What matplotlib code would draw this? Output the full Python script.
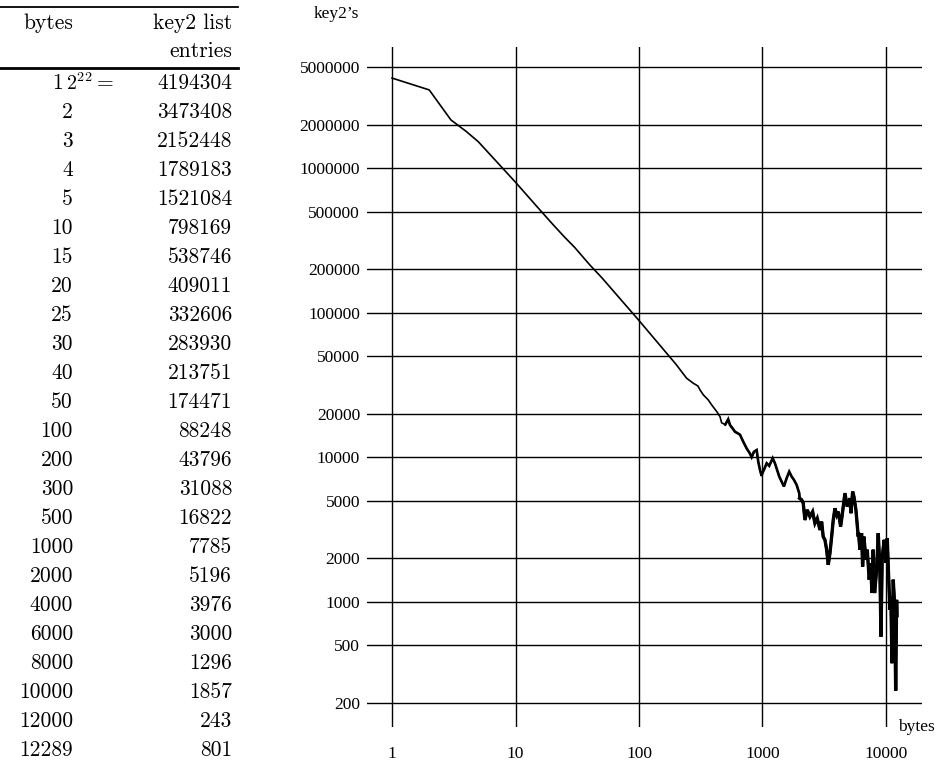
import matplotlib
matplotlib.use("Agg")
import matplotlib.pyplot as plt
from matplotlib.lines import Line2D
import numpy as np

plt.rcParams["mathtext.fontset"] = "cm"

# Table: block size in bytes and number of key2 list entries
table_bytes = [1, 2, 3, 4, 5, 10, 15, 20, 25, 30, 40, 50, 100, 200, 300, 500,
               1000, 2000, 4000, 6000, 8000, 10000, 12000, 12289]
table_entries = [4194304, 3473408, 2152448, 1789183, 1521084, 798169, 538746,
                 409011, 332606, 283930, 213751, 174471, 88248, 43796, 31088,
                 16822, 7785, 5196, 3976, 3000, 1296, 1857, 243, 801]

# Additional samples of the measured curve between the tabulated sizes
extra_bytes = [243, 275, 312, 332, 364, 388, 426, 453, 467, 528, 546, 574, 599,
               625, 658, 699, 745, 792, 818, 853, 898, 925, 955, 985, 1028,
               1082, 1135, 1210, 1262, 1368, 1430, 1493, 1570, 1648, 1723,
               1799, 1892, 1986, 2076, 2140, 2208, 2306, 2425, 2549, 2661,
               2779, 2922, 3016, 3105, 3207, 3311, 3412, 3522, 3635, 3745,
               3866, 4111, 4298, 4460, 4656, 4861, 5114, 5210, 5375, 5508,
               5715, 5970, 6155, 6355, 6475, 6635, 6888, 7059, 7326, 7516,
               7705, 7890, 8105, 8410, 8667, 8938, 9120, 9333, 9686, 10250,
               10520, 10770, 10970, 11190, 11460, 11750, 12210]
extra_entries = [35200, 32500, 29200, 27000, 24900, 23000, 20700, 19100, 17300,
                 18300, 16700, 15800, 15000, 14700, 14300, 12800, 11500, 10600,
                 10000, 10900, 11200, 9310, 8170, 7420, 8170, 9080, 8710, 9840,
                 9080, 7350, 6780, 6270, 7160, 7940, 7350, 6970, 6430, 5640,
                 5070, 4810, 3680, 4320, 3880, 4200, 3490, 3780, 3140, 3580,
                 2820, 2680, 2290, 1800, 2170, 2820, 3680, 4430, 4200, 3310,
                 4200, 5640, 4550, 5200, 4100, 5780, 5340, 4320, 2820, 2290,
                 2980, 1750, 2820, 1950, 2290, 1420, 1850, 1150, 2290, 1150,
                 1660, 2980, 1660, 574, 2050, 2680, 2750, 1490, 879, 1090, 376,
                 1420, 977, 1030]

W, H = 935, 768


def fx(px):
    return px / W


def fy(py):
    return 1 - py / H


fig = plt.figure(figsize=(W / 100, H / 100), dpi=100)

# ---- log-log plot -------------------------------------------------------
ax = fig.add_axes([fx(367), fy(727), fx(922) - fx(367), fy(47) - fy(727)])
ax.set_xscale("log")
ax.set_yscale("log")
ax.set_xlim(0.627, 19600)
ax.set_ylim(136, 6.88e6)

curve_x = np.array(table_bytes + extra_bytes, dtype=float)
curve_y = np.array(table_entries + extra_entries, dtype=float)
order = np.argsort(curve_x, kind="stable")
curve_x, curve_y = curve_x[order], curve_y[order]
ax.plot(curve_x, curve_y, color="black", lw=1.2, solid_joinstyle="miter")
# the fluctuating tail is drawn heavier
tail = curve_x >= 500
ax.plot(curve_x[tail], curve_y[tail], color="black", lw=1.9,
        solid_joinstyle="miter")
tail2 = curve_x >= 2000
ax.plot(curve_x[tail2], curve_y[tail2], color="black", lw=2.4,
        solid_joinstyle="miter")

xticks = [1, 10, 100, 1000, 10000]
yticks = [200, 500, 1000, 2000, 5000, 10000, 20000, 50000, 100000, 200000,
          500000, 1000000, 2000000, 5000000]
ax.set_xticks(xticks)
ax.set_xticklabels([str(v) for v in xticks])
ax.set_yticks(yticks)
ax.set_yticklabels([str(v) for v in yticks])
ax.minorticks_off()
ax.grid(True, which="major", color="black", lw=1.0)
ax.set_axisbelow(True)
for s in ax.spines.values():
    s.set_visible(False)
ax.tick_params(axis="both", length=0, labelsize=12.5)
ax.tick_params(axis="y", pad=5)
ax.tick_params(axis="x", pad=14)
for lab in ax.get_xticklabels() + ax.get_yticklabels():
    lab.set_fontfamily("Liberation Serif")

fig.text(fx(336), fy(14), "key2’s", family="Liberation Serif", fontsize=12.5,
         ha="center", va="center")
fig.text(fx(898), fy(727), "bytes", family="Liberation Serif", fontsize=12.5,
         ha="left", va="center")

# ---- table --------------------------------------------------------------
tfont = dict(family="cmr10", fontsize=15.5, va="center")
left_col = 73
right_col = 232

fig.add_artist(Line2D([0, fx(238)], [fy(7), fy(7)], transform=fig.transFigure,
                      color="black", lw=1.3))
fig.add_artist(Line2D([0, fx(238)], [fy(68), fy(68)], transform=fig.transFigure,
                      color="black", lw=2.0))
fig.text(fx(left_col), fy(23), "bytes", ha="right", **tfont)
fig.text(fx(right_col), fy(23), "key2 list", ha="right", **tfont)
fig.text(fx(right_col), fy(51), "entries", ha="right", **tfont)

row_y0, row_step = 83, 29.0
for i, (b, e) in enumerate(zip(table_bytes, table_entries)):
    yy = fy(row_y0 + i * row_step)
    if i == 0:
        fig.text(fx(63), yy, str(b), ha="right", **tfont)
        fig.text(fx(66), yy, r"$2^{22}$", ha="left", family="cmr10",
                 fontsize=14.5, va="center")
        fig.text(fx(97), yy, "=", ha="left", **tfont)
    else:
        fig.text(fx(left_col), yy, str(b), ha="right", **tfont)
    fig.text(fx(right_col), yy, str(e), ha="right", **tfont)

fig.savefig("out.png", dpi=100)
